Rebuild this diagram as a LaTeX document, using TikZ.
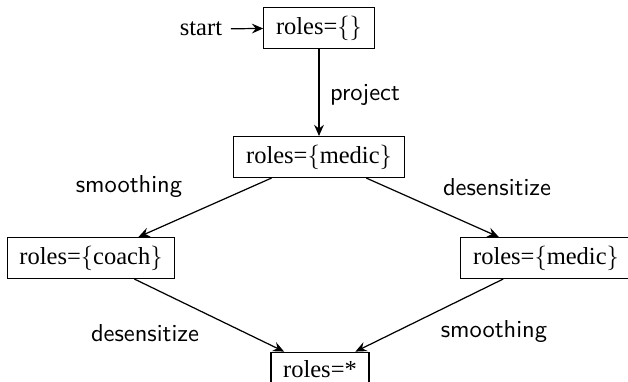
\documentclass[tikz,border=0pt]{standalone}
\usepackage{fontspec}
\setmainfont{Liberation Serif}
\usetikzlibrary{arrows.meta}
\begin{document}
\begin{tikzpicture}[x=0.40816pt,y=-0.40816pt,
  state/.style={draw,inner xsep=5pt,inner ysep=3.33pt,font=\rmfamily},
  lbl/.style={font=\sffamily},
  every path/.style={line width=0.5pt},
  >={Stealth[length=4.6pt,width=4pt,inset=1.6pt]}]
\useasboundingbox (0,0) rectangle (628,381);
\node[state] (n0) at (319,28) {roles=$\{\}$};
\node[font=\rmfamily] (start) at (201,29) {start};
\node[state] (n1) at (319,157) {roles=$\{$medic$\}$};
\node[state] (n2) at (91,258) {roles=$\{$coach$\}$};
\node[state] (n3) at (546,258) {roles=$\{$medic$\}$};
\node[state] (n4) at (320,369) {roles=*};
\draw[->] (start) -- (n0);
\draw[->] (n0) -- (n1);
\draw[->] (n1) -- (n2);
\draw[->] (n1) -- (n3);
\draw[->] (n2) -- (n4);
\draw[->] (n3) -- (n4);
\node[lbl] (l1) at (365,95) {project};
\node[lbl] (l2) at (129,187) {smoothing};
\node[lbl] (l3) at (497,187) {desensitize};
\node[lbl] (l4) at (145,333) {desensitize};
\node[lbl] (l5) at (494,332) {smoothing};
\end{tikzpicture}
\end{document}
